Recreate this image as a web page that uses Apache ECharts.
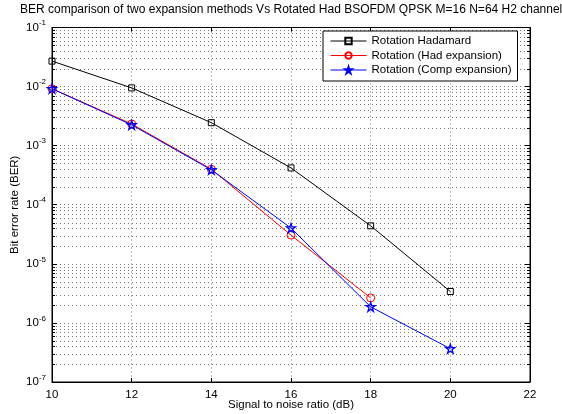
<!DOCTYPE html>
<html>
<head>
<meta charset="utf-8">
<script src="https://cdn.jsdelivr.net/npm/echarts@6/dist/echarts.min.js"></script>
<style>
  html, body { margin: 0; padding: 0; background: #fff; }
  #chart { width: 562px; height: 414px; }
</style>
</head>
<body>
<div id="chart"></div>
<script>
// SNR points (dB)
const snr = [10, 12, 14, 16, 18, 20];
// Bit error rates per scheme
const berHadamard = [0.027, 0.0095, 0.00245, 4.2e-4, 4.4e-5, 3.4e-6];
const berHadExpansion = [0.0092, 0.00233, 4.0e-4, 3.06e-5, 2.65e-6];
const berCompExpansion = [0.0092, 0.00225, 3.9e-4, 4.03e-5, 1.87e-6, 3.66e-7];
// Axis ticks
const xTicks = [10, 12, 14, 16, 18, 20, 22];
const yDecades = [-7, -6, -5, -4, -3, -2, -1];
const seriesNames = ['Rotation Hadamard', 'Rotation (Had expansion)', 'Rotation (Comp expansion)'];

// minor log grid values 2..9 x 10^k
const minorValues = [];
for (let k = yDecades[0]; k < yDecades[yDecades.length - 1]; k++) {
  for (let m = 2; m <= 9; m++) minorValues.push(m * Math.pow(10, k));
}

const FONT = 'Liberation Sans, Arial, sans-serif';
const starPath = 'path://M50,2 L61,36 L97,36 L68,57 L79,92 L50,70 L21,92 L32,57 L3,36 L39,36 Z';
const pairs = (ys) => ys.map((v, i) => [snr[i], v]);

const chart = echarts.init(document.getElementById('chart'), null, { renderer: 'canvas' });

const yLabelFmt = (v) => {
  const e = Math.round(Math.log10(v));
  return '{b|10}{s|' + e + '}';
};

const option = {
  backgroundColor: '#fff',
  animation: false,
  title: {
    text: 'BER comparison of two expansion methods Vs Rotated Had BSOFDM QPSK M=16 N=64 H2 channel',
    left: 20,
    top: 4,
    padding: 0,
    textStyle: { fontFamily: FONT, fontSize: 12, fontWeight: 'normal', color: '#000' }
  },
  grid: {
    left: 52, right: 32, top: 27.5, bottom: 32,
    outerBoundsMode: 'none', containLabel: false,
    show: true, borderColor: '#000', borderWidth: 1, backgroundColor: '#fff'
  },
  legend: {
    data: seriesNames,
    orient: 'vertical',
    left: 323,
    top: 31,
    padding: [4, 6, 5, 7],
    itemWidth: 36,
    itemHeight: 8,
    itemGap: 2.5,
    backgroundColor: '#fff',
    borderColor: '#000',
    borderWidth: 1,
    borderRadius: 0,
    lineStyle: { width: 1 },
    textStyle: { fontFamily: FONT, fontSize: 11.5, color: '#000', lineHeight: 12 }
  },
  xAxis: [{
    type: 'value',
    min: xTicks[0],
    max: xTicks[xTicks.length - 1],
    interval: 2,
    name: 'Signal to noise ratio (dB)',
    nameLocation: 'middle',
    nameGap: 17,
    nameMoveOverlap: false,
    nameTextStyle: { fontFamily: FONT, fontSize: 11.5, color: '#000' },
    axisLine: { show: true, lineStyle: { color: '#000', width: 1 } },
    axisTick: { show: true, inside: true, length: 4, lineStyle: { color: '#000' } },
    axisLabel: { fontFamily: FONT, fontSize: 11.5, color: '#000', margin: 7 },
    splitLine: { show: true, lineStyle: { color: '#777', type: [1, 3], width: 1 } }
  }, {
    type: 'value',
    position: 'top',
    min: xTicks[0],
    max: xTicks[xTicks.length - 1],
    interval: 2,
    axisLine: { show: true, lineStyle: { color: '#000', width: 1 } },
    axisTick: { show: true, inside: true, length: 4, lineStyle: { color: '#000' } },
    axisLabel: { show: false },
    splitLine: { show: false }
  }],
  yAxis: [{
    type: 'log',
    logBase: 10,
    min: Math.pow(10, yDecades[0]),
    max: Math.pow(10, yDecades[yDecades.length - 1]),
    interval: 1,
    name: 'Bit error rate (BER)',
    nameLocation: 'middle',
    nameGap: 31,
    nameMoveOverlap: false,
    nameTextStyle: { fontFamily: FONT, fontSize: 11.5, color: '#000' },
    axisLine: { show: true, lineStyle: { color: '#000', width: 1 } },
    axisTick: { show: true, inside: true, length: 5, lineStyle: { color: '#000' } },
    axisLabel: {
      formatter: yLabelFmt,
      margin: 6,
      rich: {
        b: { fontFamily: FONT, fontSize: 11.5, color: '#000' },
        s: { fontFamily: FONT, fontSize: 8, color: '#000', padding: [0, 0, 9, 0] }
      }
    },
    splitLine: { show: true, lineStyle: { color: '#777', type: [1, 3], width: 1 } }
  }, {
    type: 'log',
    logBase: 10,
    position: 'right',
    min: Math.pow(10, yDecades[0]),
    max: Math.pow(10, yDecades[yDecades.length - 1]),
    interval: 1,
    axisLine: { show: true, lineStyle: { color: '#000', width: 1 } },
    axisTick: { show: true, inside: true, length: 5, lineStyle: { color: '#000' } },
    axisLabel: { show: false },
    splitLine: { show: false }
  }],
  series: [
    {
      // minor log grid lines and minor ticks on both sides
      type: 'custom',
      silent: true,
      z: 1,
      xAxisIndex: 0,
      yAxisIndex: 0,
      data: minorValues.map(v => [xTicks[0], v]),
      renderItem: function (params, api) {
        const cs = params.coordSys;
        const y = Math.round(api.coord([xTicks[0], api.value(1)])[1]) + 0.5;
        return {
          type: 'group',
          children: [
            { type: 'line', shape: { x1: cs.x, y1: y, x2: cs.x + cs.width, y2: y },
              style: { stroke: '#777', lineWidth: 1, lineDash: [1, 3] } },
            { type: 'line', shape: { x1: cs.x, y1: y, x2: cs.x + 3, y2: y },
              style: { stroke: '#000', lineWidth: 1 } },
            { type: 'line', shape: { x1: cs.x + cs.width - 3, y1: y, x2: cs.x + cs.width, y2: y },
              style: { stroke: '#000', lineWidth: 1 } }
          ]
        };
      }
    },
    {
      name: seriesNames[0],
      type: 'line',
      data: pairs(berHadamard),
      symbol: 'rect',
      symbolSize: 6,
      z: 3,
      lineStyle: { color: '#000', width: 1 },
      itemStyle: { color: 'rgba(0,0,0,0)', borderColor: '#000', borderWidth: 1 }
    },
    {
      name: seriesNames[1],
      type: 'line',
      data: pairs(berHadExpansion),
      symbol: 'circle',
      symbolSize: 8,
      z: 4,
      lineStyle: { color: '#ff0000', width: 1 },
      itemStyle: { color: 'rgba(0,0,0,0)', borderColor: '#ff0000', borderWidth: 1 }
    },
    {
      name: seriesNames[2],
      type: 'line',
      data: pairs(berCompExpansion),
      symbol: starPath,
      symbolSize: 9,
      z: 5,
      lineStyle: { color: '#0000ff', width: 1 },
      itemStyle: { color: 'rgba(0,0,0,0)', borderColor: '#0000ff', borderWidth: 1.3 }
    }
  ]
};

chart.setOption(option);
</script>
</body>
</html>
